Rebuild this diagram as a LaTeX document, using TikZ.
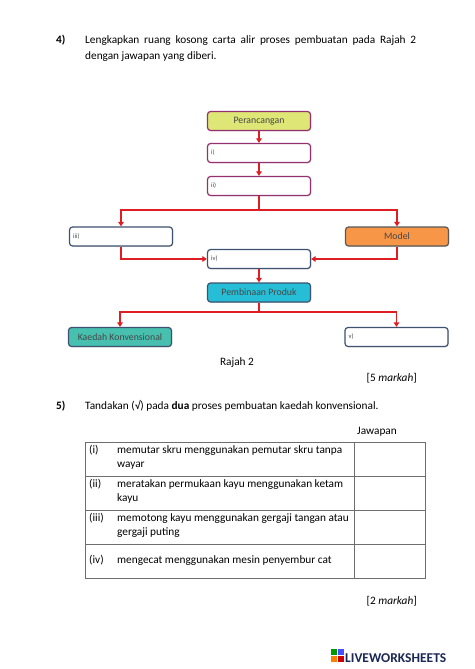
\documentclass[tikz,border=0pt]{standalone}
\usepackage{fontspec}
\setmainfont{Carlito}
\usetikzlibrary{arrows.meta,positioning,shadows}

\definecolor{arrred}{RGB}{222,30,34}
\definecolor{plum}{RGB}{150,48,112}
\definecolor{slate}{RGB}{62,82,112}
\definecolor{limefill}{RGB}{222,230,118}
\definecolor{orangefill}{RGB}{247,150,70}
\definecolor{cyanfill}{RGB}{38,190,214}
\definecolor{tealfill}{RGB}{72,192,176}
\definecolor{boxtext}{RGB}{70,70,70}
\definecolor{gridline}{RGB}{110,110,110}
\definecolor{lwnavy}{RGB}{28,40,84}

\begin{document}
\begin{tikzpicture}[x=1pt,y=-1pt,font=\fontsize{11.3}{16}\selectfont,
box/.style={draw=slate,line width=1.2pt,rounded corners=3pt,minimum width=103pt,minimum height=19pt,inner sep=0pt,
  font=\fontsize{9.8}{10}\selectfont,text=boxtext,drop shadow={opacity=0.25,shadow xshift=0.8pt,shadow yshift=-0.8pt}},
blank/.style={box,fill=white},
tag/.style={font=\fontsize{6.5}{7}\selectfont,anchor=west,inner sep=0pt,text=boxtext},
arr/.style={-{Triangle[length=4.5pt,width=5.5pt]},draw=arrred,line width=1.8pt},
wire/.style={draw=arrred,line width=1.8pt},
qtext/.style={anchor=north west,inner sep=0pt,align=left},
markpos/.style={anchor=base east,inner sep=0pt}]
\useasboundingbox[fill=white] (0,0) rectangle (474,669);

% soalan 4
\node[anchor=base west,inner sep=0pt,font=\fontsize{11.3}{16}\selectfont\bfseries] (q4) at (56,44) {4)};
\node[anchor=north west,inner sep=0pt,text width=331pt,align=justify] (q4text) at (85,35)
  {Lengkapkan ruang kosong carta alir proses pembuatan pada Rajah 2 \mbox{dengan} jawapan yang diberi.};

% carta alir
\node[box,draw=plum,fill=limefill] (plan) at (259,121) {Perancangan};
\node[blank,draw=plum] (i) at (259,153) {};
\node[blank,draw=plum] (ii) at (259,186) {};
\node[blank] (iii) at (121,236.5) {};
\node[box,fill=orangefill,draw=gray!70!black] (model) at (397,236.5) {Model};
\node[blank] (iv) at (259,259) {};
\node[box,fill=cyanfill] (build) at (259,292.5) {Pembinaan Produk};
\node[box,fill=tealfill] (conv) at (120,337) {Kaedah Konvensional};
\node[blank] (v) at (396.5,337) {};
\node[tag] (itag) at ([xshift=4pt]i.west) {i)};
\node[tag] (iitag) at ([xshift=4pt]ii.west) {ii)};
\node[tag] (iiitag) at ([xshift=4pt]iii.west) {iii)};
\node[tag] (ivtag) at ([xshift=4pt]iv.west) {iv)};
\node[tag] (vtag) at ([xshift=4pt]v.west) {v)};
\coordinate (split1) at (259,210);
\coordinate (split2) at (259,312);

\draw[arr] (plan) -- (i); \draw[arr] (i) -- (ii);
\draw[wire] (ii.south) -- (split1);
\draw[arr] (split1) -| (iii.north); \draw[arr] (split1) -| (model.north);
\draw[arr] (iii.south) |- (iv.west); \draw[arr] (model.south) |- (iv.east);
\draw[arr] (iv) -- (build);
\draw[wire] (build.south) -- (split2);
\draw[arr] (split2) -| (conv.north); \draw[arr] (split2) -| (v.north);

\node[inner sep=0pt] (caption) at (237,363) {Rajah 2};
\node[markpos] (mark5) at (417,381) {[5 \textit{markah}]};

% soalan 5
\node[anchor=base west,inner sep=0pt,font=\fontsize{11.3}{16}\selectfont\bfseries] (q5) at (56,409) {5)};
\node[anchor=base west,inner sep=0pt] (q5text) at (85,409) {Tandakan (√) pada \textbf{dua} proses pembuatan kaedah konvensional.};
\node[inner sep=0pt] (ans) at (377,432) {Jawapan};

% jadual
\draw[gridline,line width=0.6pt] (85,442) rectangle (425,578);
\draw[gridline,line width=0.6pt] (354,442) -- (354,578);
\foreach \y in {476,510,544}
  \draw[gridline,line width=0.6pt] (85,\y) -- (425,\y);
\foreach \n/\y/\t in {i/445.5/{memutar skru menggunakan pemutar skru tanpa\\wayar},
  ii/479.5/{meratakan permukaan kayu menggunakan ketam\\kayu},
  iii/513.5/{memotong kayu menggunakan gergaji tangan atau\\gergaji puting},
  iv/555.5/{mengecat menggunakan mesin penyembur cat}}{
  \node[qtext] (num\n) at (89,\y) {(\n)};
  \node[qtext,font=\fontsize{11.3}{13.5}\selectfont] (row\n) at (117,\y) {\t};
}
\node[markpos] (mark2) at (417,604) {[2 \textit{markah}]};

% logo
\fill[green!60!black] (331,649) rectangle (337,655);
\fill[blue!70!white] (338,649) rectangle (344,655);
\fill[orange] (331,656) rectangle (337,662);
\fill[red!80!black] (338,656) rectangle (344,662);
\node[anchor=base west,inner sep=0pt,font=\fontsize{13.5}{14}\selectfont\bfseries,text=lwnavy] (logo) at (345,662) {LIVEWORKSHEETS};
\end{tikzpicture}
\end{document}
